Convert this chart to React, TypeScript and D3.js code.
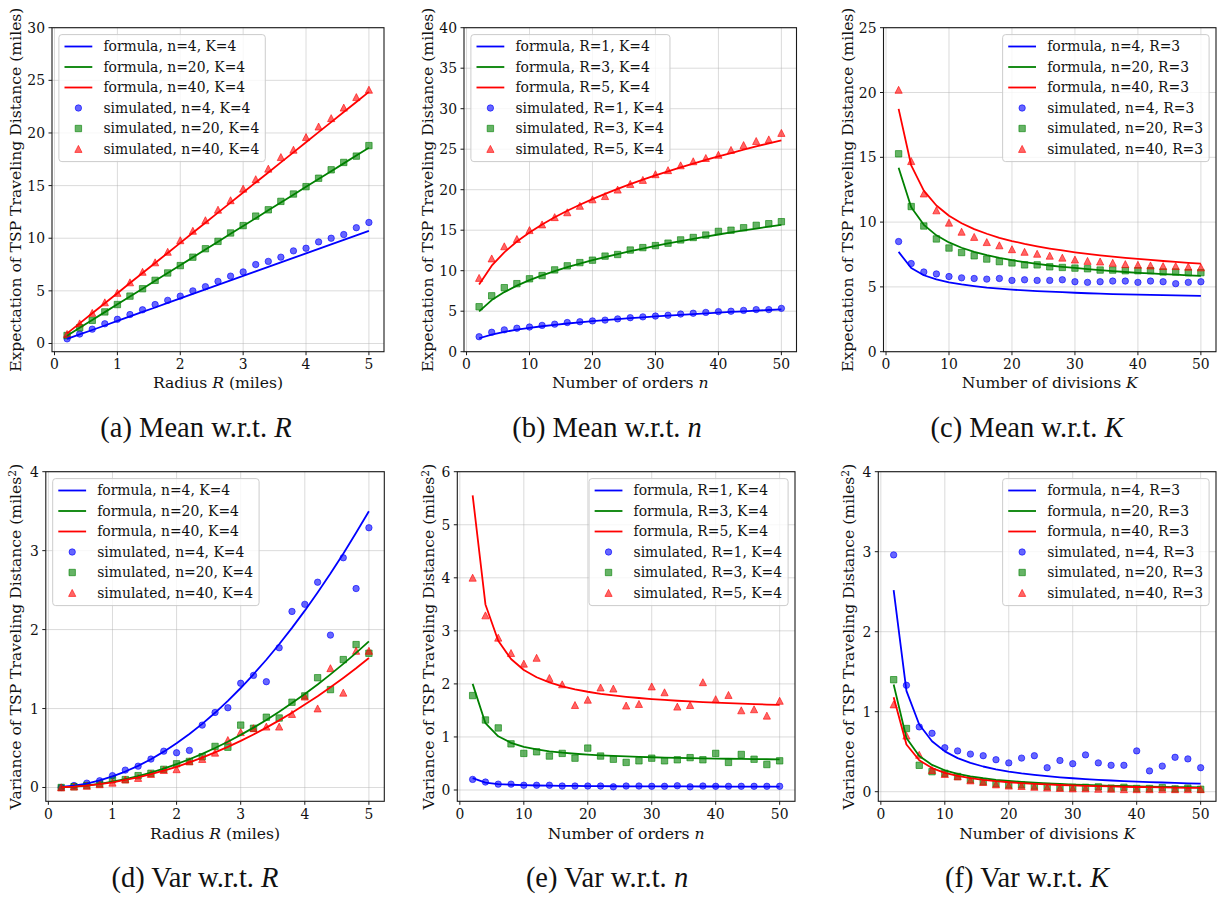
import React, { useEffect, useRef } from 'react';
import * as d3 from 'd3';

// x grids
const R_GRID = [0.2, 0.4, 0.6, 0.8, 1.0, 1.2, 1.4, 1.6, 1.8, 2.0, 2.2, 2.4, 2.6, 2.8, 3.0, 3.2, 3.4, 3.6, 3.8, 4.0, 4.2, 4.4, 4.6, 4.8, 5.0];
const COUNT_GRID = [2, 4, 6, 8, 10, 12, 14, 16, 18, 20, 22, 24, 26, 28, 30, 32, 34, 36, 38, 40, 42, 44, 46, 48, 50];

// (a) mean w.r.t. R
const MEAN_R_KEYS = ['n=4, K=4', 'n=20, K=4', 'n=40, K=4'];
const MEAN_R_FORMULA_N4 = [0.43, 0.86, 1.28, 1.71, 2.14, 2.57, 3.0, 3.42, 3.85, 4.28, 4.71, 5.14, 5.56, 5.99, 6.42, 6.85, 7.28, 7.7, 8.13, 8.56, 8.99, 9.42, 9.84, 10.27, 10.7];
const MEAN_R_FORMULA_N20 = [0.74, 1.49, 2.23, 2.98, 3.72, 4.46, 5.21, 5.95, 6.7, 7.44, 8.18, 8.93, 9.67, 10.42, 11.16, 11.9, 12.65, 13.39, 14.14, 14.88, 15.62, 16.37, 17.11, 17.86, 18.6];
const MEAN_R_FORMULA_N40 = [0.96, 1.91, 2.87, 3.82, 4.78, 5.74, 6.69, 7.65, 8.6, 9.56, 10.52, 11.47, 12.43, 13.38, 14.34, 15.3, 16.25, 17.21, 18.16, 19.12, 20.08, 21.03, 21.99, 22.94, 23.9];
const MEAN_R_SIM_N4 = [0.44, 0.9, 1.36, 1.87, 2.3, 2.75, 3.2, 3.7, 4.1, 4.5, 5.0, 5.4, 5.9, 6.4, 6.8, 7.5, 7.8, 8.2, 8.8, 9.05, 9.65, 10.0, 10.35, 11.0, 11.5];
const MEAN_R_SIM_N20 = [0.76, 1.5, 2.2, 3.0, 3.7, 4.5, 5.2, 6.0, 6.7, 7.4, 8.2, 9.0, 9.7, 10.5, 11.2, 12.1, 12.7, 13.5, 14.2, 14.9, 15.7, 16.5, 17.2, 17.8, 18.8];
const MEAN_R_SIM_N40 = [0.9, 1.9, 2.9, 3.9, 4.8, 5.8, 6.8, 7.7, 8.7, 9.8, 10.7, 11.7, 12.7, 13.6, 14.7, 15.6, 16.6, 17.7, 18.4, 19.6, 20.6, 21.4, 22.4, 23.4, 24.1];

// (b) mean w.r.t. n
const MEAN_N_KEYS = ['R=1, K=4', 'R=3, K=4', 'R=5, K=4'];
const MEAN_N_FORMULA_R1 = [1.66, 2.12, 2.45, 2.72, 2.94, 3.14, 3.32, 3.48, 3.63, 3.77, 3.9, 4.02, 4.14, 4.25, 4.35, 4.45, 4.55, 4.64, 4.73, 4.82, 4.91, 4.99, 5.07, 5.15, 5.22];
const MEAN_N_FORMULA_R3 = [4.98, 6.37, 7.36, 8.16, 8.83, 9.43, 9.95, 10.44, 10.88, 11.3, 11.69, 12.06, 12.41, 12.74, 13.06, 13.36, 13.66, 13.93, 14.2, 14.47, 14.72, 14.97, 15.2, 15.44, 15.66];
const MEAN_N_FORMULA_R5 = [8.3, 10.62, 12.27, 13.6, 14.72, 15.71, 16.59, 17.4, 18.14, 18.84, 19.49, 20.1, 20.68, 21.24, 21.76, 22.27, 22.76, 23.22, 23.67, 24.11, 24.53, 24.95, 25.34, 25.73, 26.1];
const MEAN_N_SIM_R1 = [1.85, 2.4, 2.7, 2.9, 3.05, 3.25, 3.4, 3.6, 3.7, 3.8, 3.9, 4.05, 4.2, 4.3, 4.4, 4.5, 4.65, 4.75, 4.85, 4.95, 5.0, 5.1, 5.2, 5.2, 5.35];
const MEAN_N_SIM_R3 = [5.55, 6.9, 7.9, 8.4, 9.0, 9.4, 10.1, 10.6, 11.0, 11.3, 11.8, 12.0, 12.55, 12.85, 13.1, 13.4, 13.8, 14.1, 14.4, 14.85, 15.0, 15.3, 15.6, 15.8, 16.05];
const MEAN_N_SIM_R5 = [9.1, 11.5, 13.0, 13.9, 15.0, 15.7, 16.6, 17.2, 18.0, 18.8, 19.2, 20.0, 20.7, 21.2, 21.9, 22.4, 23.0, 23.5, 23.9, 24.3, 24.9, 25.5, 26.0, 26.2, 27.0];

// (c) mean w.r.t. K
const MEAN_K_KEYS = ['n=4, R=3', 'n=20, R=3', 'n=40, R=3'];
const MEAN_K_FORMULA_N4 = [7.7, 6.46, 5.9, 5.58, 5.35, 5.19, 5.06, 4.95, 4.87, 4.79, 4.73, 4.68, 4.63, 4.59, 4.55, 4.51, 4.48, 4.45, 4.42, 4.4, 4.38, 4.36, 4.34, 4.32, 4.3];
const MEAN_K_FORMULA_N20 = [14.2, 11.14, 9.79, 8.98, 8.43, 8.02, 7.71, 7.45, 7.24, 7.06, 6.91, 6.77, 6.65, 6.55, 6.46, 6.37, 6.29, 6.22, 6.15, 6.09, 6.04, 5.99, 5.94, 5.89, 5.85];
const MEAN_K_FORMULA_N40 = [18.74, 14.37, 12.43, 11.28, 10.49, 9.91, 9.46, 9.1, 8.79, 8.54, 8.32, 8.13, 7.96, 7.81, 7.67, 7.55, 7.44, 7.34, 7.24, 7.16, 7.08, 7.0, 6.93, 6.86, 6.8];
const MEAN_K_SIM_N4 = [8.5, 6.8, 6.15, 6.0, 5.8, 5.7, 5.65, 5.6, 5.65, 5.5, 5.55, 5.5, 5.5, 5.55, 5.4, 5.35, 5.4, 5.45, 5.45, 5.35, 5.45, 5.4, 5.25, 5.35, 5.4];
const MEAN_K_SIM_N20 = [15.27, 11.2, 9.7, 8.7, 8.0, 7.65, 7.4, 7.15, 6.95, 6.85, 6.7, 6.7, 6.55, 6.5, 6.45, 6.4, 6.3, 6.3, 6.25, 6.25, 6.25, 6.15, 6.15, 6.1, 6.1];
const MEAN_K_SIM_N40 = [20.2, 14.7, 12.2, 10.9, 9.95, 9.25, 8.85, 8.45, 8.2, 7.9, 7.7, 7.55, 7.4, 7.25, 7.1, 7.0, 6.95, 6.85, 6.75, 6.7, 6.65, 6.6, 6.6, 6.55, 6.5];

// (d) var w.r.t. R
const VAR_R_FORMULA_N4 = [0.006, 0.022, 0.05, 0.09, 0.14, 0.202, 0.274, 0.358, 0.454, 0.56, 0.678, 0.806, 0.946, 1.098, 1.26, 1.434, 1.618, 1.814, 2.022, 2.24, 2.47, 2.71, 2.962, 3.226, 3.5];
const VAR_R_FORMULA_N20 = [0.003, 0.012, 0.027, 0.047, 0.074, 0.107, 0.145, 0.189, 0.24, 0.296, 0.358, 0.426, 0.5, 0.58, 0.666, 0.758, 0.855, 0.959, 1.069, 1.184, 1.305, 1.433, 1.566, 1.705, 1.85];
const VAR_R_FORMULA_N40 = [0.003, 0.01, 0.024, 0.042, 0.066, 0.095, 0.129, 0.168, 0.213, 0.262, 0.318, 0.378, 0.444, 0.514, 0.59, 0.672, 0.758, 0.85, 0.947, 1.05, 1.157, 1.27, 1.388, 1.511, 1.64];
const VAR_R_SIM_N4 = [0.0, 0.025, 0.055, 0.085, 0.15, 0.22, 0.27, 0.36, 0.46, 0.44, 0.47, 0.79, 0.95, 1.01, 1.32, 1.42, 1.34, 1.77, 2.23, 2.32, 2.6, 1.93, 2.91, 2.52, 3.29];
const VAR_R_SIM_N20 = [0.0, 0.01, 0.025, 0.045, 0.1, 0.1, 0.15, 0.18, 0.23, 0.3, 0.33, 0.39, 0.52, 0.51, 0.79, 0.75, 0.89, 0.88, 1.08, 1.16, 1.39, 1.24, 1.62, 1.81, 1.7];
const VAR_R_SIM_N40 = [0.0, 0.01, 0.02, 0.04, 0.06, 0.1, 0.12, 0.17, 0.22, 0.23, 0.33, 0.36, 0.44, 0.6, 0.7, 0.75, 0.77, 0.77, 0.93, 1.15, 1.0, 1.51, 1.2, 1.73, 1.73];

// (e) var w.r.t. n
const VAR_N_FORMULA_R1 = [0.222, 0.14, 0.112, 0.099, 0.091, 0.085, 0.081, 0.078, 0.076, 0.074, 0.073, 0.071, 0.07, 0.069, 0.069, 0.068, 0.067, 0.067, 0.066, 0.066, 0.065, 0.065, 0.065, 0.064, 0.064];
const VAR_N_FORMULA_R3 = [2.0, 1.259, 1.012, 0.889, 0.815, 0.765, 0.73, 0.703, 0.683, 0.667, 0.653, 0.642, 0.633, 0.624, 0.617, 0.611, 0.606, 0.601, 0.597, 0.593, 0.589, 0.586, 0.583, 0.58, 0.578];
const VAR_N_FORMULA_R5 = [5.555, 3.498, 2.812, 2.469, 2.263, 2.126, 2.028, 1.954, 1.897, 1.852, 1.814, 1.783, 1.757, 1.734, 1.714, 1.697, 1.682, 1.669, 1.657, 1.646, 1.636, 1.627, 1.619, 1.611, 1.605];
const VAR_N_SIM_R1 = [0.2, 0.15, 0.11, 0.11, 0.09, 0.09, 0.09, 0.075, 0.075, 0.075, 0.075, 0.06, 0.075, 0.075, 0.07, 0.07, 0.08, 0.06, 0.075, 0.07, 0.07, 0.07, 0.07, 0.07, 0.07];
const VAR_N_SIM_R3 = [1.78, 1.32, 1.17, 0.87, 0.69, 0.72, 0.64, 0.69, 0.6, 0.79, 0.64, 0.58, 0.52, 0.55, 0.6, 0.55, 0.57, 0.61, 0.57, 0.69, 0.52, 0.67, 0.58, 0.48, 0.55];
const VAR_N_SIM_R5 = [4.0, 3.29, 2.87, 2.58, 2.38, 2.49, 2.11, 1.99, 1.6, 1.7, 1.93, 1.91, 1.59, 1.62, 1.95, 1.84, 1.57, 1.6, 2.03, 1.71, 1.79, 1.5, 1.52, 1.4, 1.68];

// (f) var w.r.t. K
const VAR_K_FORMULA_N4 = [2.52, 1.26, 0.84, 0.63, 0.504, 0.42, 0.36, 0.315, 0.28, 0.252, 0.229, 0.21, 0.194, 0.18, 0.168, 0.158, 0.148, 0.14, 0.133, 0.126, 0.12, 0.115, 0.11, 0.105, 0.101];
const VAR_K_FORMULA_N20 = [1.34, 0.67, 0.447, 0.335, 0.268, 0.223, 0.191, 0.168, 0.149, 0.134, 0.122, 0.112, 0.103, 0.096, 0.089, 0.084, 0.079, 0.074, 0.071, 0.067, 0.064, 0.061, 0.058, 0.056, 0.054];
const VAR_K_FORMULA_N40 = [1.18, 0.59, 0.393, 0.295, 0.236, 0.197, 0.169, 0.148, 0.131, 0.118, 0.107, 0.098, 0.091, 0.084, 0.079, 0.074, 0.069, 0.066, 0.062, 0.059, 0.056, 0.054, 0.051, 0.049, 0.047];
const VAR_K_SIM_N4 = [2.96, 1.33, 0.81, 0.73, 0.55, 0.51, 0.47, 0.45, 0.4, 0.36, 0.42, 0.45, 0.3, 0.39, 0.35, 0.46, 0.36, 0.33, 0.33, 0.51, 0.26, 0.32, 0.43, 0.41, 0.3];
const VAR_K_SIM_N20 = [1.4, 0.79, 0.33, 0.25, 0.23, 0.19, 0.15, 0.125, 0.1, 0.085, 0.085, 0.07, 0.065, 0.055, 0.055, 0.055, 0.06, 0.045, 0.055, 0.04, 0.04, 0.05, 0.035, 0.045, 0.03];
const VAR_K_SIM_N40 = [1.09, 0.7, 0.46, 0.27, 0.22, 0.19, 0.14, 0.12, 0.09, 0.075, 0.07, 0.06, 0.05, 0.045, 0.04, 0.04, 0.035, 0.035, 0.03, 0.03, 0.03, 0.03, 0.03, 0.03, 0.03];

const R_TICKS = [0, 1, 2, 3, 4, 5];
const COUNT_TICKS = [0, 10, 20, 30, 40, 50];

const COLORS = ['#0000ff', '#008000', '#ff0000'];
const FONT = "'DejaVu Serif', serif";
const CAPTION_FONT = "'Liberation Serif', serif";
const TICK_FS = 13.9;
const LEGEND_FS = 13.9;
const LABEL_FS = 15.6;

const MARKERS = [
  d3.symbol(d3.symbolCircle, Math.PI * 3.2 * 3.2)(),
  'M-3.2,-3.2h6.4v6.4h-6.4z',
  'M0,-3.6L3.6,3.4L-3.6,3.4Z',
];

const MEAN_LABEL = 'Expectation of TSP Traveling Distance (miles)';
const VAR_LABEL = 'Variance of TSP Traveling Distance (miles';

const PANELS = [
  {
    xs: R_GRID, xTicks: R_TICKS, xDomain: [-0.04, 5.24], yDomain: [-0.78, 30], yTicks: d3.range(0, 31, 5),
    formulas: [MEAN_R_FORMULA_N4, MEAN_R_FORMULA_N20, MEAN_R_FORMULA_N40],
    sims: [MEAN_R_SIM_N4, MEAN_R_SIM_N20, MEAN_R_SIM_N40], keys: MEAN_R_KEYS,
    frame: { left: 52, right: 384, top: 27.7, bottom: 351.7 }, legendRight: false,
    xLabel: ['Radius ', 'R', ' (miles)'], yLabel: MEAN_LABEL, sq: false, yLabelX: 15,
    caption: ['(a) Mean w.r.t. ', 'R'], capX: 196, capY: 436.7, xLabelY: 388,
  },
  {
    xs: COUNT_GRID, xTicks: COUNT_TICKS, xDomain: [-0.4, 52.4], yDomain: [0, 40], yTicks: d3.range(0, 41, 5),
    formulas: [MEAN_N_FORMULA_R1, MEAN_N_FORMULA_R3, MEAN_N_FORMULA_R5],
    sims: [MEAN_N_SIM_R1, MEAN_N_SIM_R3, MEAN_N_SIM_R5], keys: MEAN_N_KEYS,
    frame: { left: 464, right: 796.5, top: 27.7, bottom: 351.7 }, legendRight: false,
    xLabel: ['Number of orders ', 'n', ''], yLabel: MEAN_LABEL, sq: false, yLabelX: 427,
    caption: ['(b) Mean w.r.t. ', 'n'], capX: 607, capY: 436.7, xLabelY: 388,
  },
  {
    xs: COUNT_GRID, xTicks: COUNT_TICKS, xDomain: [-0.4, 52.4], yDomain: [0, 25], yTicks: d3.range(0, 26, 5),
    formulas: [MEAN_K_FORMULA_N4, MEAN_K_FORMULA_N20, MEAN_K_FORMULA_N40],
    sims: [MEAN_K_SIM_N4, MEAN_K_SIM_N20, MEAN_K_SIM_N40], keys: MEAN_K_KEYS,
    frame: { left: 883.5, right: 1216, top: 27.7, bottom: 351.7 }, legendRight: true,
    xLabel: ['Number of divisions ', 'K', ''], yLabel: MEAN_LABEL, sq: false, yLabelX: 847,
    caption: ['(c) Mean w.r.t. ', 'K'], capX: 1027, capY: 436.7, xLabelY: 388,
  },
  {
    xs: R_GRID, xTicks: R_TICKS, xDomain: [-0.04, 5.24], yDomain: [-0.175, 4], yTicks: d3.range(0, 5, 1),
    formulas: [VAR_R_FORMULA_N4, VAR_R_FORMULA_N20, VAR_R_FORMULA_N40],
    sims: [VAR_R_SIM_N4, VAR_R_SIM_N20, VAR_R_SIM_N40], keys: MEAN_R_KEYS,
    frame: { left: 45.8, right: 384.3, top: 471.7, bottom: 801.3 }, legendRight: false,
    xLabel: ['Radius ', 'R', ' (miles)'], yLabel: VAR_LABEL, sq: true, yLabelX: 15,
    caption: ['(d) Var w.r.t. ', 'R'], capX: 195, capY: 887, xLabelY: 839,
  },
  {
    xs: COUNT_GRID, xTicks: COUNT_TICKS, xDomain: [-0.4, 52.4], yDomain: [-0.213, 6], yTicks: d3.range(0, 7, 1),
    formulas: [VAR_N_FORMULA_R1, VAR_N_FORMULA_R3, VAR_N_FORMULA_R5],
    sims: [VAR_N_SIM_R1, VAR_N_SIM_R3, VAR_N_SIM_R5], keys: MEAN_N_KEYS,
    frame: { left: 457.3, right: 795, top: 471.7, bottom: 801.3 }, legendRight: true,
    xLabel: ['Number of orders ', 'n', ''], yLabel: VAR_LABEL, sq: true, yLabelX: 428,
    caption: ['(e) Var w.r.t. ', 'n'], capX: 607, capY: 887, xLabelY: 839,
  },
  {
    xs: COUNT_GRID, xTicks: COUNT_TICKS, xDomain: [-0.4, 52.4], yDomain: [-0.12, 4], yTicks: d3.range(0, 5, 1),
    formulas: [VAR_K_FORMULA_N4, VAR_K_FORMULA_N20, VAR_K_FORMULA_N40],
    sims: [VAR_K_SIM_N4, VAR_K_SIM_N20, VAR_K_SIM_N40], keys: MEAN_K_KEYS,
    frame: { left: 878.3, right: 1216, top: 471.7, bottom: 801.3 }, legendRight: true,
    xLabel: ['Number of divisions ', 'K', ''], yLabel: VAR_LABEL, sq: true, yLabelX: 848,
    caption: ['(f) Var w.r.t. ', 'K'], capX: 1027, capY: 887, xLabelY: 839,
  },
];

function drawPanel(svg: any, p: any) {
  const f = p.frame;
  const g = svg.append('g');
  const x = d3.scaleLinear().domain(p.xDomain).range([f.left, f.right]);
  const y = d3.scaleLinear().domain(p.yDomain).range([f.bottom, f.top]);

  // grid
  g.append('g').selectAll('line').data(p.xTicks).join('line')
    .attr('x1', (d: number) => x(d)).attr('x2', (d: number) => x(d))
    .attr('y1', f.top).attr('y2', f.bottom)
    .attr('stroke', '#b0b0b0').attr('stroke-opacity', 0.45).attr('stroke-width', 1);
  g.append('g').selectAll('line').data(p.yTicks).join('line')
    .attr('y1', (d: number) => y(d)).attr('y2', (d: number) => y(d))
    .attr('x1', f.left).attr('x2', f.right)
    .attr('stroke', '#b0b0b0').attr('stroke-opacity', 0.45).attr('stroke-width', 1);

  // simulated points
  p.sims.forEach((vals: number[], i: number) => {
    g.append('g').selectAll('path').data(vals).join('path')
      .attr('transform', (d: number, j: number) => `translate(${x(p.xs[j])},${y(d)})`)
      .attr('d', MARKERS[i])
      .attr('fill', COLORS[i]).attr('fill-opacity', 0.6)
      .attr('stroke', COLORS[i]).attr('stroke-opacity', 0.6).attr('stroke-width', 1);
  });

  // formula lines
  p.formulas.forEach((vals: number[], i: number) => {
    const line = d3.line<number>().x((d, j) => x(p.xs[j])).y((d) => y(d));
    g.append('path').attr('d', line(vals)).attr('fill', 'none')
      .attr('stroke', COLORS[i]).attr('stroke-width', 1.8).attr('stroke-linejoin', 'round');
  });

  // frame
  g.append('rect').attr('x', f.left).attr('y', f.top)
    .attr('width', f.right - f.left).attr('height', f.bottom - f.top)
    .attr('fill', 'none').attr('stroke', '#1a1a1a').attr('stroke-width', 1.1);

  // ticks
  const txt = (sel: any, fs: number) => sel.attr('font-family', FONT).attr('font-size', fs).attr('fill', '#111');
  p.xTicks.forEach((t: number) => {
    g.append('line').attr('x1', x(t)).attr('x2', x(t)).attr('y1', f.bottom).attr('y2', f.bottom + 3.5)
      .attr('stroke', '#1a1a1a').attr('stroke-width', 1);
    txt(g.append('text'), TICK_FS).attr('x', x(t)).attr('y', f.bottom + 17.3).attr('text-anchor', 'middle').text(String(t));
  });
  p.yTicks.forEach((t: number) => {
    g.append('line').attr('y1', y(t)).attr('y2', y(t)).attr('x1', f.left - 3.5).attr('x2', f.left)
      .attr('stroke', '#1a1a1a').attr('stroke-width', 1);
    txt(g.append('text'), TICK_FS).attr('x', f.left - 7).attr('y', y(t)).attr('dy', '0.36em').attr('text-anchor', 'end').text(String(t));
  });

  // x label
  const xl = txt(g.append('text'), LABEL_FS).attr('x', (f.left + f.right) / 2).attr('y', p.xLabelY).attr('text-anchor', 'middle');
  xl.append('tspan').text(p.xLabel[0]);
  xl.append('tspan').attr('font-style', 'italic').text(p.xLabel[1]);
  if (p.xLabel[2]) xl.append('tspan').text(p.xLabel[2]);

  // y label
  const cy = (f.top + f.bottom) / 2;
  const yl = txt(g.append('text'), LABEL_FS).attr('transform', `translate(${p.yLabelX},${cy}) rotate(-90)`)
    .attr('text-anchor', 'middle').attr('dy', '0.36em');
  yl.append('tspan').text(p.yLabel);
  if (p.sq) {
    yl.append('tspan').attr('font-size', 10.9).attr('baseline-shift', '45%').text('2');
    yl.append('tspan').text(')');
  }

  // caption
  const cap = g.append('text').attr('x', p.capX).attr('y', p.capY).attr('text-anchor', 'middle')
    .attr('font-family', CAPTION_FONT).attr('font-size', 28.5).attr('fill', '#111');
  cap.append('tspan').text(p.caption[0]);
  cap.append('tspan').attr('font-style', 'italic').text(p.caption[1]);

  // legend
  const labels = [
    ...p.keys.map((k: string) => `formula, ${k}`),
    ...p.keys.map((k: string) => `simulated, ${k}`),
  ];
  const lg = g.append('g');
  const box = lg.append('rect');
  const rowH = 20.5;
  const items = lg.append('g');
  const texts: SVGTextElement[] = [];
  labels.forEach((lab: string, i: number) => {
    const t = txt(items.append('text'), LEGEND_FS).attr('x', 44.5).attr('y', 11.9 + i * rowH).attr('dy', '0.36em').text(lab);
    texts.push(t.node());
    if (i < 3) {
      items.append('line').attr('x1', 5.6).attr('x2', 33.4).attr('y1', 11.9 + i * rowH).attr('y2', 11.9 + i * rowH)
        .attr('stroke', COLORS[i]).attr('stroke-width', 1.8);
    } else {
      const c = COLORS[i - 3];
      items.append('path').attr('transform', `translate(19.5,${11.9 + i * rowH})`).attr('d', MARKERS[i - 3])
        .attr('fill', c).attr('fill-opacity', 0.6).attr('stroke', c).attr('stroke-opacity', 0.6).attr('stroke-width', 1);
    }
  });
  const maxW = d3.max(texts, (n) => n.getComputedTextLength()) || 150;
  const w = 44.5 + maxW + 6;
  const h = 127;
  const bx = p.legendRight ? f.right - 6.9 - w : f.left + 6.9;
  const by = f.top + 6.9;
  lg.attr('transform', `translate(${bx},${by})`);
  box.attr('width', w).attr('height', h).attr('rx', 3).attr('fill', '#fff').attr('fill-opacity', 0.8)
    .attr('stroke', '#cccccc').attr('stroke-width', 1);
}

export default function App() {
  const ref = useRef<SVGSVGElement>(null);
  useEffect(() => {
    const svg = d3.select(ref.current);
    svg.selectAll('*').remove();
    PANELS.forEach((p) => drawPanel(svg, p));
  }, []);
  return (
    <div style={{ position: 'absolute', left: 0, top: 0 }}>
      <svg ref={ref} width={1225} height={897} style={{ display: 'block', background: '#fff' }} />
    </div>
  );
}
